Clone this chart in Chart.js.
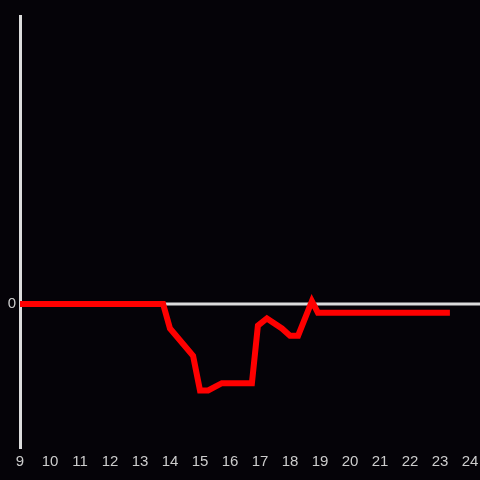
<!DOCTYPE html>
<html>
<head>
<meta charset="utf-8">
<script src="https://cdn.jsdelivr.net/npm/chart.js@4/dist/chart.umd.min.js"></script>
<style>
  html, body { margin: 0; padding: 0; background: #050308; }
  #wrap { width: 480px; height: 480px; }
</style>
</head>
<body>
<div id="wrap"><canvas id="chart" width="480" height="480"></canvas></div>
<script>
// hour of day and value
const hours = [9, 13.77, 14.0, 14.77, 15.0, 15.27, 15.73, 16.73, 16.93, 17.23, 17.73, 18.0, 18.27, 18.73, 18.93, 23.33];
const values = [0, 0, -0.17, -0.36, -0.60, -0.60, -0.55, -0.55, -0.15, -0.10, -0.17, -0.22, -0.22, 0.02, -0.06, -0.06];
const xTicks = [9, 10, 11, 12, 13, 14, 15, 16, 17, 18, 19, 20, 21, 22, 23, 24];
const yTicks = [0];

// zero line runs past the chart area to the canvas edge
const zeroLine = {
    id: 'zeroLine',
    beforeDatasetsDraw(chart) {
        const y = chart.scales.y.getPixelForValue(0);
        const ctx = chart.ctx;
        ctx.save();
        ctx.strokeStyle = '#dcdcdc';
        ctx.lineWidth = 3;
        ctx.beginPath();
        ctx.moveTo(chart.chartArea.left, y);
        ctx.lineTo(chart.width, y);
        ctx.stroke();
        ctx.restore();
    }
};

new Chart(document.getElementById('chart'), {
    type: 'line',
    data: {
        datasets: [{
            data: hours.map((h, i) => ({ x: h, y: values[i] })),
            borderColor: '#ff0000',
            borderWidth: 6,
            pointRadius: 0,
            tension: 0,
            fill: false
        }]
    },
    options: {
        responsive: false,
        animation: false,
        layout: { padding: { top: 16, right: 10, left: 0, bottom: 0 } },
        plugins: { legend: { display: false }, tooltip: { enabled: false } },
        scales: {
            x: {
                type: 'linear',
                min: 9,
                max: 24,
                afterBuildTicks: s => { s.ticks = xTicks.map(v => ({ value: v })); },
                afterFit: s => { s.height = 32; s.paddingLeft = 0; s.paddingRight = 0; },
                grid: { display: false, drawTicks: false },
                border: { display: false },
                ticks: { color: '#cccccc', font: { family: 'Liberation Sans', size: 15 }, padding: 5, maxRotation: 0, autoSkip: false }
            },
            y: {
                min: -1,
                max: 2,
                afterBuildTicks: s => { s.ticks = yTicks.map(v => ({ value: v })); },
                afterFit: s => { s.width = 20; },
                grid: { display: false, drawTicks: false },
                border: { display: true, color: '#dcdcdc', width: 3 },
                ticks: { color: '#cccccc', font: { family: 'Liberation Sans', size: 15 }, padding: 4 }
            }
        }
    },
    plugins: [zeroLine]
});
</script>
</body>
</html>
